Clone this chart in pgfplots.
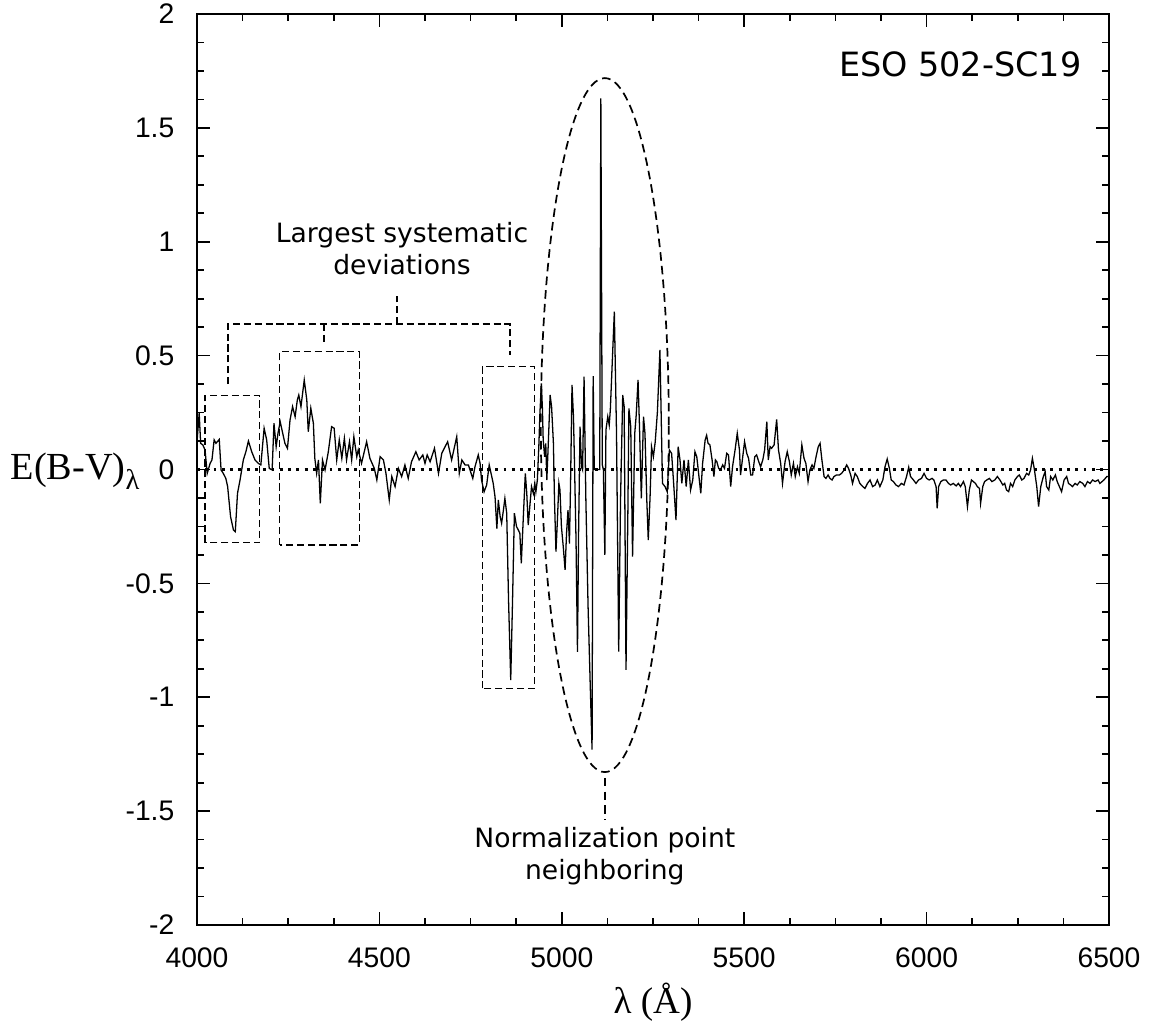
\documentclass[border=0pt]{standalone}
\usepackage{pgfplots}
\pgfplotsset{compat=1.18}
\usepackage{fontspec}
\setmainfont{Liberation Serif}
\newfontfamily\arial{Liberation Sans}
\newfontfamily\dejavu{DejaVu Sans}
\begin{document}
\begin{tikzpicture}
\begin{axis}[
  scale only axis, width=319.2pt, height=318.85pt,
  xmin=4000, xmax=6500, ymin=-2, ymax=2,
  xtick={4000,4500,5000,5500,6000,6500},
  xticklabels={4000,4500,5000,5500,6000,6500},
  ytick={-2,-1.5,-1,-0.5,0,0.5,1,1.5,2},
  yticklabels={-2,-1.5,-1,-0.5,0,0.5,1,1.5,2},
  minor x tick num=3, minor y tick num=3,
  tick align=inside, major tick length=4.6pt, minor tick length=2.4pt,
  axis line style={line width=0.75pt},
  every tick/.style={line width=0.6pt, black},
  tick label style={font=\arial\fontsize{9.9}{11}\selectfont},
  xticklabel style={yshift=-4.6pt},
  yticklabel style={xshift=-4.4pt},
  clip mode=individual,
]
\addplot[black, line width=1pt, dash pattern=on 1pt off 1.9pt] coordinates {(4000,0) (6500,0)};
\addplot[black, line width=0.45pt] coordinates {
(4000,0.12) (4006,0.247) (4010,0.115) (4016,0.108) (4022,0.086) (4028,-0.017) (4036,0.027) (4041,0.042)
(4047,0.130) (4052,0.115) (4061,0.132) (4066,-0.002) (4072,-0.017) (4079,-0.039) (4084,-0.075) (4092,-0.207)
(4100,-0.266) (4105,-0.273) (4111,-0.105) (4118,-0.046) (4127,0.042) (4134,0.078) (4141,0.125) (4150,0.078)
(4159,0.042) (4168,0.027) (4175,0.020) (4184,0.181) (4191,0.130) (4198,0.005) (4206,-0.002) (4211,0.203)
(4217,0.100) (4222,0.159) (4228,0.210) (4241,0.115) (4248,0.093) (4255,0.217) (4262,0.276) (4269,0.232)
(4275,0.305) (4279,0.327) (4285,0.276) (4294,0.393) (4301,0.305) (4305,0.166) (4312,0.269) (4319,0.203)
(4323,0.049) (4328,-0.017) (4333,0.042) (4338,-0.149) (4344,0.042) (4351,-0.002) (4360,0.078) (4369,0.188)
(4376,0.181) (4383,0.042) (4390,0.130) (4397,0.049) (4404,0.137) (4410,0.042) (4418,0.122) (4424,0.042)
(4430,0.144) (4438,0.056) (4442,0.086) (4451,0.027) (4465,0.122) (4474,0.049) (4486,0.005) (4493,-0.046)
(4502,0.056) (4511,0.042) (4518,-0.017) (4527,-0.134) (4534,-0.031) (4543,-0.075) (4552,0.005) (4561,-0.031)
(4570,0.020) (4579,-0.039) (4588,0.034) (4600,0.078) (4609,0.042) (4619,0.064) (4625,0.027) (4631,0.064)
(4639,0.034) (4651,0.093) (4662,-0.017) (4671,0.071) (4687,0.122) (4698,0.042) (4712,0.144) (4719,-0.017)
(4726,0.042) (4735,0.020) (4744,0.020) (4750,-0.010) (4756,-0.039) (4762,0.012) (4771,0.064) (4776,0.027)
(4780,-0.046) (4787,-0.098) (4794,-0.068) (4801,0.020) (4808,-0.031) (4812,-0.061) (4817,-0.120) (4822,-0.259)
(4826,-0.134) (4831,-0.207) (4835,-0.236) (4840,-0.178) (4844,-0.127) (4849,-0.192) (4854,-0.573) (4860,-0.925)
(4865,-0.573) (4870,-0.192) (4876,-0.251) (4881,-0.266) (4885,-0.280) (4889,-0.412) (4895,-0.192) (4900,-0.017)
(4904,-0.105) (4908,-0.244) (4913,-0.149) (4917,-0.075) (4922,-0.105) (4926,-0.061) (4929,-0.098) (4933,-0.046)
(4937,0.100) (4940,0.246) (4944,0.378) (4947,0.261) (4949,0.130) (4953,0.056) (4956,0.115) (4959,-0.046)
(4963,0.115) (4968,0.327) (4972,0.276) (4977,0.115) (4980,-0.134) (4984,-0.361) (4988,-0.222) (4992,-0.061)
(4995,-0.090) (4999,-0.251) (5004,-0.339) (5009,-0.441) (5013,-0.280) (5017,-0.178) (5021,-0.325) (5024,-0.061)
(5028,0.371) (5032,0.232) (5035,0.012) (5039,-0.310) (5043,-0.801) (5046,-0.281) (5050,0.188) (5054,0.012)
(5057,-0.002) (5061,0.408) (5066,-0.134) (5072,-0.600) (5078,-0.950) (5083,-1.230) (5086,0.410) (5089,0.000)
(5104,0.000) (5107,1.630) (5111,0.020) (5114,0.000) (5118,-0.375) (5121,0.173) (5126,0.232) (5130,0.195)
(5133,0.261) (5144,0.693) (5150,0.158) (5156,-0.800) (5161,-0.134) (5167,0.327) (5171,0.276) (5176,-0.880)
(5181,-0.207) (5184,0.268) (5189,0.188) (5194,-0.383) (5200,0.159) (5204,0.239) (5209,0.393) (5213,0.188)
(5218,-0.127) (5224,0.232) (5228,0.159) (5233,-0.134) (5237,-0.310) (5242,-0.120) (5246,0.100) (5251,0.056)
(5256,0.120) (5262,0.250) (5269,0.525) (5276,-0.061) (5283,-0.075) (5289,-0.098) (5295,0.085) (5301,0.071)
(5306,-0.046) (5313,-0.222) (5319,0.100) (5324,0.042) (5329,-0.061) (5335,0.042) (5341,-0.075) (5347,0.042)
(5353,-0.090) (5359,-0.046) (5365,0.078) (5370,0.056) (5374,-0.002) (5381,-0.105) (5386,0.027) (5393,0.130)
(5397,0.150) (5401,0.115) (5406,0.108) (5412,0.042) (5417,-0.031) (5421,0.042) (5425,0.034) (5430,0.005)
(5435,-0.002) (5441,0.020) (5446,0.005) (5452,0.071) (5457,0.064) (5463,-0.075) (5468,0.012) (5475,0.086)
(5481,0.159) (5487,0.086) (5490,-0.024) (5496,0.056) (5501,0.122) (5507,0.071) (5512,0.049) (5518,-0.024)
(5523,-0.024) (5529,0.056) (5534,0.064) (5540,0.034) (5545,0.012) (5551,0.042) (5556,0.086) (5562,0.210)
(5566,0.042) (5571,0.100) (5575,0.093) (5582,0.108) (5589,0.220) (5594,0.086) (5600,0.027) (5605,-0.061)
(5612,0.034) (5618,0.078) (5624,0.034) (5629,-0.024) (5635,0.027) (5640,-0.031) (5646,0.012) (5651,-0.017)
(5658,0.108) (5664,0.049) (5669,0.027) (5675,-0.053) (5680,-0.002) (5686,0.020) (5691,0.005) (5697,0.056)
(5703,0.100) (5708,0.115) (5713,0.042) (5719,-0.031) (5724,-0.039) (5730,-0.024) (5735,-0.039) (5741,-0.046)
(5746,-0.031) (5753,-0.024) (5761,-0.024) (5767,-0.017) (5774,-0.002) (5781,0.020) (5786,0.005) (5792,-0.024)
(5797,-0.061) (5804,-0.017) (5810,-0.031) (5817,-0.061) (5825,-0.075) (5831,-0.083) (5838,-0.061) (5845,-0.046)
(5852,-0.075) (5859,-0.068) (5865,-0.046) (5872,-0.075) (5880,-0.046) (5886,0.012) (5892,0.046) (5898,0.005)
(5903,-0.046) (5909,-0.053) (5916,-0.068) (5923,-0.075) (5931,-0.061) (5938,-0.068) (5945,-0.031) (5951,0.010)
(5956,-0.031) (5964,-0.046) (5971,-0.061) (5978,-0.046) (5986,-0.039) (5993,-0.017) (6000,-0.039) (6007,-0.046)
(6015,-0.039) (6020,-0.046) (6026,-0.075) (6029,-0.171) (6033,-0.075) (6039,-0.053) (6046,-0.046) (6053,-0.046)
(6060,-0.061) (6066,-0.068) (6073,-0.061) (6081,-0.072) (6087,-0.061) (6093,-0.075) (6101,-0.053) (6106,-0.075)
(6112,-0.163) (6117,-0.090) (6123,-0.046) (6128,-0.053) (6134,-0.061) (6139,-0.075) (6145,-0.083) (6148,-0.149)
(6154,-0.075) (6159,-0.053) (6165,-0.046) (6172,-0.039) (6179,-0.053) (6187,-0.046) (6194,-0.031) (6201,-0.046)
(6209,-0.068) (6214,-0.061) (6219,-0.090) (6225,-0.097) (6230,-0.061) (6236,-0.075) (6242,-0.046) (6249,-0.031)
(6254,-0.024) (6261,-0.046) (6267,-0.039) (6274,-0.017) (6280,-0.024) (6285,-0.002) (6290,0.049) (6295,0.005)
(6302,-0.075) (6307,-0.163) (6313,-0.075) (6320,-0.031) (6325,-0.010) (6329,-0.075) (6335,-0.090) (6340,-0.031)
(6346,-0.046) (6353,-0.024) (6358,-0.053) (6364,-0.075) (6370,-0.097) (6377,-0.046) (6384,-0.031) (6389,-0.061)
(6395,-0.068) (6400,-0.075) (6407,-0.061) (6413,-0.068) (6420,-0.053) (6428,-0.061) (6434,-0.075) (6441,-0.053)
(6448,-0.061) (6455,-0.046) (6462,-0.053) (6470,-0.046) (6475,-0.061) (6481,-0.053) (6486,-0.046) (6494,-0.031)
(6500,-0.030)
};
% annotations
\draw[line width=0.45pt, dash pattern=on 2.5pt off 1.3pt] (axis cs:4022,-0.321) rectangle (axis cs:4172,0.324);
\draw[line width=0.45pt, dash pattern=on 2.5pt off 1.3pt] (axis cs:4227,-0.331) rectangle (axis cs:4445,0.517);
\draw[line width=0.45pt, dash pattern=on 2.5pt off 1.3pt] (axis cs:4782,-0.961) rectangle (axis cs:4925,0.451);
\draw[line width=0.45pt, dash pattern=on 2.5pt off 1.3pt] (axis cs:4085,0.375) -- (axis cs:4085,0.639) -- (axis cs:4858,0.639) -- (axis cs:4858,0.503);
\draw[line width=0.45pt, dash pattern=on 2.5pt off 1.3pt] (axis cs:4348,0.639) -- (axis cs:4348,0.547);
\draw[line width=0.45pt, dash pattern=on 2.5pt off 1.3pt] (axis cs:4548,0.639) -- (axis cs:4548,0.762);
\draw[line width=0.6pt, dash pattern=on 3pt off 1.8pt] (axis cs:5118,0.195) ellipse [x radius=22.4pt, y radius=121.45pt];
\draw[line width=0.6pt, dash pattern=on 3pt off 1.8pt] (axis cs:5118,-1.354) -- (axis cs:5118,-1.536);
\node[align=center, font=\dejavu\fontsize{9.3}{11.2}\selectfont] at (axis cs:4562,0.968) {Largest systematic\\deviations};
\node[align=center, font=\dejavu\fontsize{9.3}{11.2}\selectfont] at (axis cs:5118,-1.697) {Normalization point\\neighboring};
\node[anchor=east, font=\dejavu\fontsize{11.7}{14}\selectfont, inner sep=0pt] at (axis cs:6426,1.778) {ESO 502-SC19};
\coordinate (SW) at (rel axis cs:0,0);
\coordinate (YL) at (axis cs:4000,-0.046);
\coordinate (XL) at (rel axis cs:0.5,0);
\end{axis}
\node[anchor=base east, inner sep=0pt, font=\fontsize{13.4}{15}\selectfont] at ([xshift=-19.95pt]YL) {E(B-V)\raisebox{-3.4pt}{\fontsize{10}{11}\selectfont λ}};
\node[anchor=base, inner sep=0pt, font=\fontsize{13}{15}\selectfont] at ([yshift=-30.8pt]XL) {λ (Å)};
\pgfresetboundingbox
\path (SW) ++(-68.95pt,-35.7pt) rectangle ++(404.6pt,359.45pt);
\end{tikzpicture}
\end{document}
